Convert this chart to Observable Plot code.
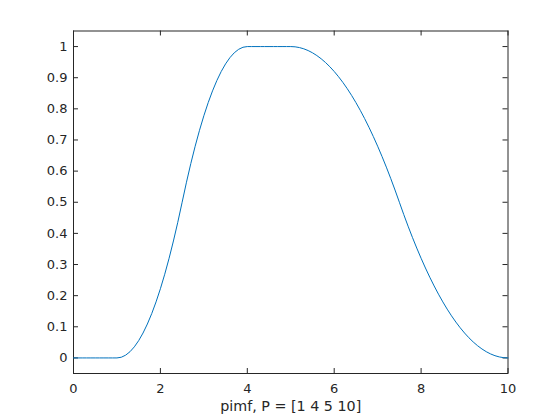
<!DOCTYPE html>
<html><head><meta charset="utf-8">
<script src="https://cdn.jsdelivr.net/npm/d3@7"></script>
<script src="https://cdn.jsdelivr.net/npm/@observablehq/plot@0.6"></script>
<style>body{margin:0;background:#fff}</style>
</head><body><div id="chart"></div>
<script>
const xs = [0,0.1,0.2,0.3,0.4,0.5,0.6,0.7,0.8,0.9,1,1.1,1.2,1.3,1.4,1.5,1.6,1.7,1.8,1.9,2,2.1,2.2,2.3,2.4,2.5,2.6,2.7,2.8,2.9,3,3.1,3.2,3.3,3.4,3.5,3.6,3.7,3.8,3.9,4,4.1,4.2,4.3,4.4,4.5,4.6,4.7,4.8,4.9,5,5.1,5.2,5.3,5.4,5.5,5.6,5.7,5.8,5.9,6,6.1,6.2,6.3,6.4,6.5,6.6,6.7,6.8,6.9,7,7.1,7.2,7.3,7.4,7.5,7.6,7.7,7.8,7.9,8,8.1,8.2,8.3,8.4,8.5,8.6,8.7,8.8,8.9,9,9.1,9.2,9.3,9.4,9.5,9.6,9.7,9.8,9.9,10];
const ys = [0,0,0,0,0,0,0,0,0,0,0,0.0022,0.0089,0.02,0.0356,0.0556,0.08,0.1089,0.1422,0.18,0.2222,0.2689,0.32,0.3756,0.4356,0.5,0.5644,0.6244,0.68,0.7311,0.7778,0.82,0.8578,0.8911,0.92,0.9444,0.9644,0.98,0.9911,0.9978,1,1,1,1,1,1,1,1,1,1,1,0.9992,0.9968,0.9928,0.9872,0.98,0.9712,0.9608,0.9488,0.9352,0.92,0.9032,0.8848,0.8648,0.8432,0.82,0.7952,0.7688,0.7408,0.7112,0.68,0.6472,0.6128,0.5768,0.5392,0.5,0.4608,0.4232,0.3872,0.3528,0.32,0.2888,0.2592,0.2312,0.2048,0.18,0.1568,0.1352,0.1152,0.0968,0.08,0.0648,0.0512,0.0392,0.0288,0.02,0.0128,0.0072,0.0032,0.0008,0];
const xTicks = [0,2,4,6,8,10];
const yTicks = [0,0.1,0.2,0.3,0.4,0.5,0.6,0.7,0.8,0.9,1];
const xLabel = "pimf, P = [1 4 5 10]";
const data = xs.map((x,i)=>({x, y: ys[i]}));
const ink = "#262626";
const chart = Plot.plot({
  width: 560, height: 420,
  marginLeft: 73, marginRight: 52.5, marginTop: 30.5, marginBottom: 47,
  style: {fontFamily: "DejaVu Sans, sans-serif", fontSize: "13px", color: ink, background: "#fff"},
  x: {domain: [0,10]},
  y: {domain: [-0.05,1.05]},
  marks: [
    Plot.ruleX(xTicks, {x: d=>d, y1: -0.05, y2: -0.034, stroke: ink}),
    Plot.ruleX(xTicks, {x: d=>d, y1: 1.05, y2: 1.034, stroke: ink}),
    Plot.ruleY(yTicks, {y: d=>d, x1: 0, x2: 0.115, stroke: ink}),
    Plot.ruleY(yTicks, {y: d=>d, x1: 10, x2: 9.885, stroke: ink}),
    Plot.frame({stroke: ink}),
    Plot.axisX({ticks: xTicks, tickSize: 0, tickPadding: 10, tickFormat: d3.format("~g"), label: null, fontSize: 13}),
    Plot.axisX({ticks: [], tickSize: 0, label: xLabel, labelAnchor: "center", labelArrow: "none", labelOffset: 37, fontSize: 14.3}),
    Plot.axisY({ticks: yTicks, tickSize: 0, tickPadding: 6, tickFormat: d3.format("~g"), label: null, fontSize: 13}),
    Plot.line(data, {x: "x", y: "y", stroke: "#0072BD", strokeWidth: 1})
  ]
});
document.getElementById("chart").appendChild(chart);
</script></body></html>
